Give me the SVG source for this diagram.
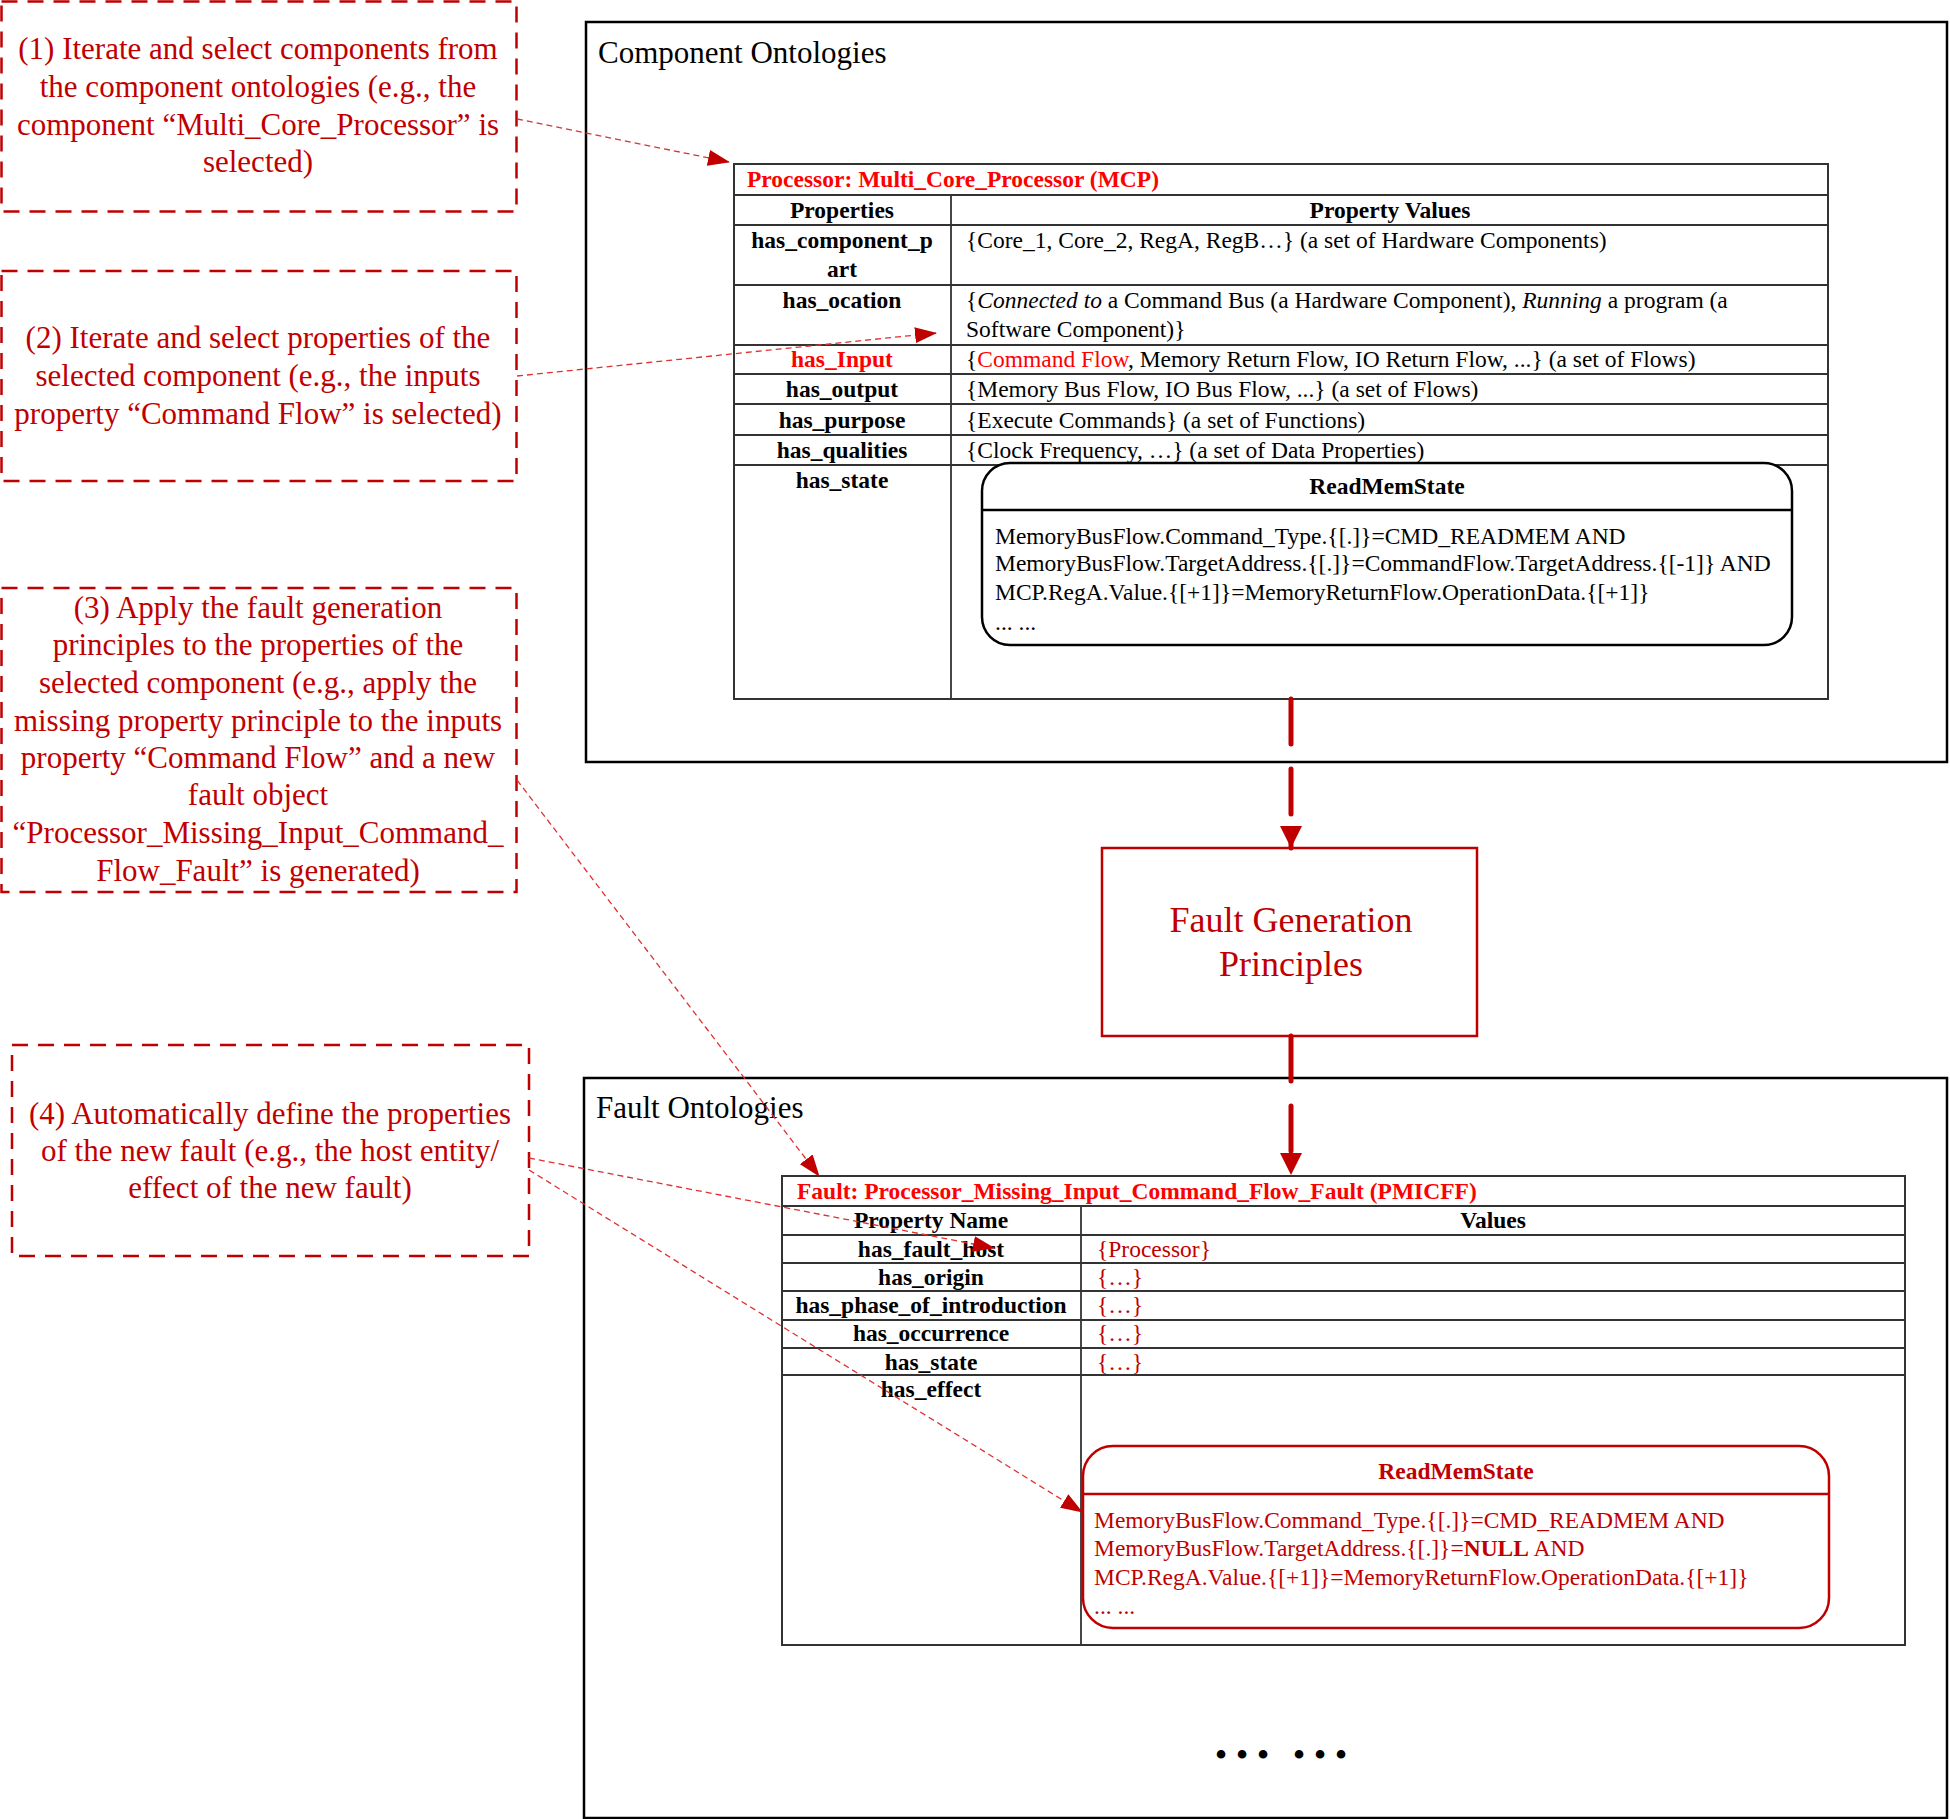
<svg xmlns="http://www.w3.org/2000/svg" width="1950" height="1819" viewBox="0 0 1950 1819">
<style>
  .ann { font-family: "Liberation Serif", "Times New Roman", serif; font-size: 31px; fill: #C00000; text-anchor: middle; }
  .annbox { fill: none; stroke: #C00000; stroke-width: 2.5; stroke-dasharray: 16 10; }
  .frame { fill: #fff; stroke: #000; stroke-width: 2.5; }
  .ttl { font-family: "Liberation Serif", "Times New Roman", serif; font-size: 31px; fill: #000; }
  .tbl { fill: none; stroke: #333; stroke-width: 2; }
  .tl { stroke: #333; stroke-width: 1.8; }
  .t { font-family: "Liberation Serif", "Times New Roman", serif; font-size: 23.5px; fill: #000; }
  .b { font-weight: bold; }
  .c { text-anchor: middle; }
  .red { fill: #FF0000; }
  .dred { fill: #C00000; }
  .conn { fill: none; stroke: #E03030; stroke-width: 1.3; stroke-dasharray: 6 4; }
  .thick { fill: none; stroke: #C00000; stroke-width: 5; stroke-dasharray: 45 25; stroke-linecap: round; }
</style>
<defs>
  <marker id="ah" markerUnits="userSpaceOnUse" markerWidth="22" markerHeight="16" refX="21" refY="8" orient="auto">
    <path d="M0,0 L22,8 L0,16 z" fill="#C00000"/>
  </marker>
  <marker id="ahb" markerUnits="userSpaceOnUse" markerWidth="22" markerHeight="22" refX="22" refY="11" orient="auto">
    <path d="M0,0 L22,11 L0,22 z" fill="#C00000"/>
  </marker>
</defs>
<rect width="1950" height="1819" fill="#fff"/>

<!-- Component Ontologies frame -->
<g id="component-ontologies">
  <rect class="frame" x="586" y="22" width="1361" height="740"/>
  <text class="ttl" x="598" y="63">Component Ontologies</text>
</g>

<!-- Processor table -->
<g id="processor-table">
  <rect class="tbl" x="734" y="164" width="1094" height="535" fill="#fff"/>
  <line class="tl" x1="734" y1="195" x2="1828" y2="195"/>
  <line class="tl" x1="734" y1="225" x2="1828" y2="225"/>
  <line class="tl" x1="734" y1="285" x2="1828" y2="285"/>
  <line class="tl" x1="734" y1="345" x2="1828" y2="345"/>
  <line class="tl" x1="734" y1="374" x2="1828" y2="374"/>
  <line class="tl" x1="734" y1="404" x2="1828" y2="404"/>
  <line class="tl" x1="734" y1="435" x2="1828" y2="435"/>
  <line class="tl" x1="734" y1="465" x2="1828" y2="465"/>
  <line class="tl" x1="951" y1="195" x2="951" y2="699"/>
  <text class="t b red" x="747" y="187">Processor: Multi_Core_Processor (MCP)</text>
  <text class="t b c" x="842" y="218">Properties</text>
  <text class="t b c" x="1390" y="218">Property Values</text>
  <text class="t b c" x="842" y="248">has_component_p</text>
  <text class="t b c" x="842" y="277">art</text>
  <text class="t" x="966" y="248">{Core_1, Core_2, RegA, RegB…} (a set of Hardware Components)</text>
  <text class="t b c" x="842" y="308">has_ocation</text>
  <text class="t" x="966" y="308">{<tspan font-style="italic">Connected to</tspan> a Command Bus (a Hardware Component), <tspan font-style="italic">Running</tspan> a program (a</text>
  <text class="t" x="966" y="337">Software Component)}</text>
  <text class="t b c red" x="842" y="367">has_Input</text>
  <text class="t" x="966" y="367">{<tspan class="red">Command Flow</tspan>, Memory Return Flow, IO Return Flow, ...} (a set of Flows)</text>
  <text class="t b c" x="842" y="397">has_output</text>
  <text class="t" x="966" y="397">{Memory Bus Flow, IO Bus Flow, ...} (a set of Flows)</text>
  <text class="t b c" x="842" y="428">has_purpose</text>
  <text class="t" x="966" y="428">{Execute Commands} (a set of Functions)</text>
  <text class="t b c" x="842" y="458">has_qualities</text>
  <text class="t" x="966" y="458">{Clock Frequency, …} (a set of Data Properties)</text>
  <text class="t b c" x="842" y="488">has_state</text>
</g>

<g id="readmemstate-component">
  <rect x="982" y="463" width="810" height="182" rx="28" fill="#fff" stroke="#000" stroke-width="2.5"/>
  <line x1="982" y1="510" x2="1792" y2="510" stroke="#000" stroke-width="2.5"/>
  <text class="t b c" x="1387" y="494">ReadMemState</text>
  <text class="t" x="995" y="544">MemoryBusFlow.Command_Type.{[.]}=CMD_READMEM AND</text>
  <text class="t" x="995" y="571">MemoryBusFlow.TargetAddress.{[.]}=CommandFlow.TargetAddress.{[-1]} AND</text>
  <text class="t" x="995" y="600">MCP.RegA.Value.{[+1]}=MemoryReturnFlow.OperationData.{[+1]}</text>
  <text class="t" x="995" y="630">... ...</text>
</g>

<!-- Fault Generation Principles -->
<g id="fault-generation-principles">
  <rect x="1102" y="848" width="375" height="188" fill="#fff" stroke="#C00000" stroke-width="2.5"/>
  <text class="c" x="1291" y="932" font-family="Liberation Serif, Times New Roman, serif" font-size="36" fill="#C00000">Fault Generation</text>
  <text class="c" x="1291" y="976" font-family="Liberation Serif, Times New Roman, serif" font-size="36" fill="#C00000">Principles</text>
</g>

<!-- Fault Ontologies frame -->
<g id="fault-ontologies">
  <rect class="frame" x="584" y="1078" width="1363" height="740"/>
  <text class="ttl" x="596" y="1118">Fault Ontologies</text>
  <text class="c" x="1221 1242 1263 1299 1320 1341" y="1767" font-family="Liberation Serif, Times New Roman, serif" font-size="36" fill="#000">••••••</text>
</g>

<!-- Fault table -->
<g id="fault-table">
  <rect class="tbl" x="782" y="1176" width="1123" height="469" fill="#fff"/>
  <line class="tl" x1="782" y1="1206" x2="1905" y2="1206"/>
  <line class="tl" x1="782" y1="1235" x2="1905" y2="1235"/>
  <line class="tl" x1="782" y1="1263" x2="1905" y2="1263"/>
  <line class="tl" x1="782" y1="1291" x2="1905" y2="1291"/>
  <line class="tl" x1="782" y1="1320" x2="1905" y2="1320"/>
  <line class="tl" x1="782" y1="1348" x2="1905" y2="1348"/>
  <line class="tl" x1="782" y1="1375" x2="1905" y2="1375"/>
  <line class="tl" x1="1081" y1="1206" x2="1081" y2="1645"/>
  <text class="t b red" x="797" y="1199">Fault: Processor_Missing_Input_Command_Flow_Fault (PMICFF)</text>
  <text class="t b c" x="931" y="1228">Property Name</text>
  <text class="t b c" x="1493" y="1228">Values</text>
  <text class="t b c" x="931" y="1257">has_fault_host</text>
  <text class="t dred" x="1097" y="1257">{Processor}</text>
  <text class="t b c" x="931" y="1285">has_origin</text>
  <text class="t dred" x="1097" y="1285">{…}</text>
  <text class="t b c" x="931" y="1313">has_phase_of_introduction</text>
  <text class="t dred" x="1097" y="1313">{…}</text>
  <text class="t b c" x="931" y="1341">has_occurrence</text>
  <text class="t dred" x="1097" y="1341">{…}</text>
  <text class="t b c" x="931" y="1370">has_state</text>
  <text class="t dred" x="1097" y="1370">{…}</text>
  <text class="t b c" x="931" y="1397">has_effect</text>
</g>

<g id="readmemstate-fault">
  <rect x="1083" y="1446" width="746" height="182" rx="30" fill="#fff" stroke="#C00000" stroke-width="2.5"/>
  <line x1="1083" y1="1494" x2="1829" y2="1494" stroke="#C00000" stroke-width="2.5"/>
  <text class="t b c dred" x="1456" y="1479">ReadMemState</text>
  <text class="t dred" x="1094" y="1528">MemoryBusFlow.Command_Type.{[.]}=CMD_READMEM AND</text>
  <text class="t dred" x="1094" y="1556">MemoryBusFlow.TargetAddress.{[.]}=<tspan font-weight="bold">NULL</tspan> AND</text>
  <text class="t dred" x="1094" y="1585">MCP.RegA.Value.{[+1]}=MemoryReturnFlow.OperationData.{[+1]}</text>
  <text class="t dred" x="1094" y="1614">... ...</text>
</g>

<!-- Annotations -->
<g id="step1">
  <rect class="annbox" x="1.5" y="1.5" width="515" height="210"/>
  <text class="ann" x="258" y="59">(1) Iterate and select components from</text>
  <text class="ann" x="258" y="97">the component ontologies (e.g., the</text>
  <text class="ann" x="258" y="135">component “Multi_Core_Processor” is</text>
  <text class="ann" x="258" y="172">selected)</text>
</g>
<g id="step2">
  <rect class="annbox" x="1.5" y="271" width="515" height="210"/>
  <text class="ann" x="258" y="348">(2) Iterate and select properties of the</text>
  <text class="ann" x="258" y="386">selected component (e.g., the inputs</text>
  <text class="ann" x="258" y="424">property “Command Flow” is selected)</text>
</g>
<g id="step3">
  <rect class="annbox" x="1.5" y="588" width="515" height="304"/>
  <text class="ann" x="258" y="618">(3) Apply the fault generation</text>
  <text class="ann" x="258" y="655">principles to the properties of the</text>
  <text class="ann" x="258" y="693">selected component (e.g., apply the</text>
  <text class="ann" x="258" y="731">missing property principle to the inputs</text>
  <text class="ann" x="258" y="768">property “Command Flow” and a new</text>
  <text class="ann" x="258" y="805">fault object</text>
  <text class="ann" x="258" y="843">“Processor_Missing_Input_Command_</text>
  <text class="ann" x="258" y="881">Flow_Fault” is generated)</text>
</g>
<g id="step4">
  <rect class="annbox" x="12" y="1045" width="517" height="211"/>
  <text class="ann" x="270" y="1124">(4) Automatically define the properties</text>
  <text class="ann" x="270" y="1161">of the new fault (e.g., the host entity/</text>
  <text class="ann" x="270" y="1198">effect of the new fault)</text>
</g>

<!-- Connectors -->
<g id="connectors">
  <path class="conn" d="M517,119 L729,162" marker-end="url(#ah)"/>
  <path class="conn" d="M517,376 L936,333" marker-end="url(#ah)"/>
  <path class="conn" d="M517,780 L819,1176" marker-end="url(#ah)"/>
  <path class="conn" d="M529,1158 L994,1248" marker-end="url(#ah)"/>
  <path class="conn" d="M529,1170 L1082,1512" marker-end="url(#ah)"/>
  <path class="thick" d="M1291,699 L1291,848" marker-end="url(#ahb)"/>
  <path class="thick" d="M1291,1036 L1291,1175" marker-end="url(#ahb)"/>
</g>
</svg>
